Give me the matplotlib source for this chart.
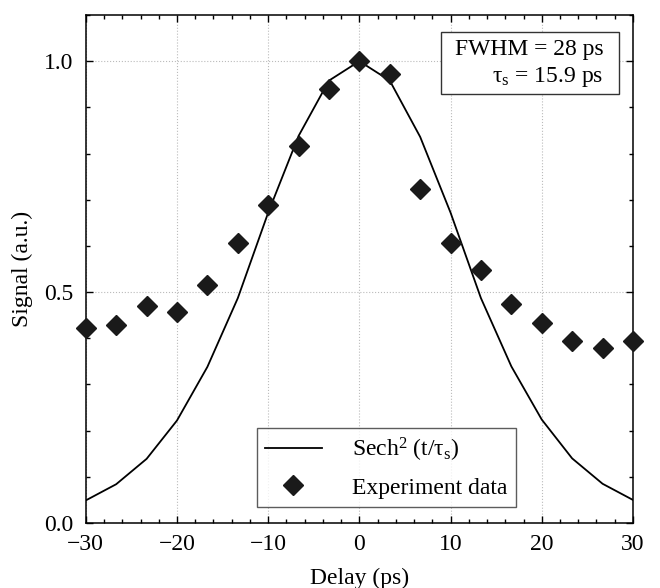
import numpy as np
import matplotlib
matplotlib.use("Agg")
from matplotlib import pyplot as plt
from matplotlib.patches import Rectangle
from matplotlib.ticker import MultipleLocator, FormatStrFormatter

plt.rcParams['font.family'] = ['Liberation Serif', 'DejaVu Serif']
plt.rcParams['mathtext.fontset'] = 'custom'
plt.rcParams['mathtext.rm'] = 'Liberation Serif'
plt.rcParams['mathtext.it'] = 'Liberation Serif:italic'

# delay points (ps)
delay = [-30, -26.67, -23.33, -20, -16.67, -13.33, -10, -6.67, -3.33, 0,
         3.33, 6.67, 10, 13.33, 16.67, 20, 23.33, 26.67, 30]
# sech^2 fit curve
fit = [0.049, 0.084, 0.139, 0.222, 0.338, 0.487, 0.672, 0.838, 0.958, 1.0,
       0.958, 0.836, 0.672, 0.487, 0.339, 0.224, 0.140, 0.085, 0.050]
# measured points
signal = [0.423, 0.429, 0.470, 0.456, 0.516, 0.606, 0.688, 0.817, 0.940, 1.001,
          0.972, 0.724, 0.606, 0.548, 0.474, 0.433, 0.394, 0.379, 0.394]

fig = plt.figure(figsize=(6.6, 5.88), dpi=100)
ax = fig.add_axes([0.130, 0.1105, 0.829, 0.864])

ax.plot(delay, fit, color='black', lw=1.3, label=r'Sech$^2$ (t/τ$_\mathrm{s}$)')
ax.plot(delay, signal, ls='none', marker='D', ms=10.5, color='#1a1a1a',
        label='Experiment data', clip_on=False, zorder=3)

ax.set_xlim(-30, 30)
ax.set_ylim(0, 1.1)
ax.xaxis.set_major_locator(MultipleLocator(10))
ax.xaxis.set_minor_locator(MultipleLocator(2))
ax.yaxis.set_major_locator(MultipleLocator(0.5))
ax.yaxis.set_minor_locator(MultipleLocator(0.1))
ax.yaxis.set_major_formatter(FormatStrFormatter('%.1f'))
ax.tick_params(which='both', direction='in', top=True, right=True, width=1)
ax.tick_params(which='major', length=5, labelsize=17)
ax.tick_params(axis='x', which='major', pad=8)
ax.tick_params(axis='y', which='major', pad=9)
ax.tick_params(which='minor', length=3)
for s in ax.spines.values():
    s.set_linewidth(1.1)

ax.grid(True, which='major', ls=':', color='#bbbbbb', lw=0.8)
ax.set_axisbelow(True)

ax.set_xlabel('Delay (ps)', fontsize=17, labelpad=9)
ax.set_ylabel('Signal (a.u.)', fontsize=17, labelpad=8)

leg = ax.legend(loc='lower right', bbox_to_anchor=(0.786, 0.032), fontsize=17,
                frameon=True, fancybox=False, edgecolor='#333333',
                handlelength=2.4, handletextpad=1.3, borderpad=0.35,
                labelspacing=0.55, borderaxespad=0)
leg.get_frame().set_linewidth(1)

# annotation box
ax.add_patch(Rectangle((0.649, 0.844), 0.325, 0.122, transform=ax.transAxes,
                       fc='white', ec='#333333', lw=1, zorder=4))
ax.text(0.946, 0.921, 'FWHM = 28 ps', transform=ax.transAxes,
        ha='right', va='baseline', fontsize=17, zorder=5)
ax.text(0.946, 0.868, 'τ$_\\mathrm{s}$ = 15.9 ps', transform=ax.transAxes,
        ha='right', va='baseline', fontsize=17, zorder=5)

fig.savefig('out.png', dpi=100)
